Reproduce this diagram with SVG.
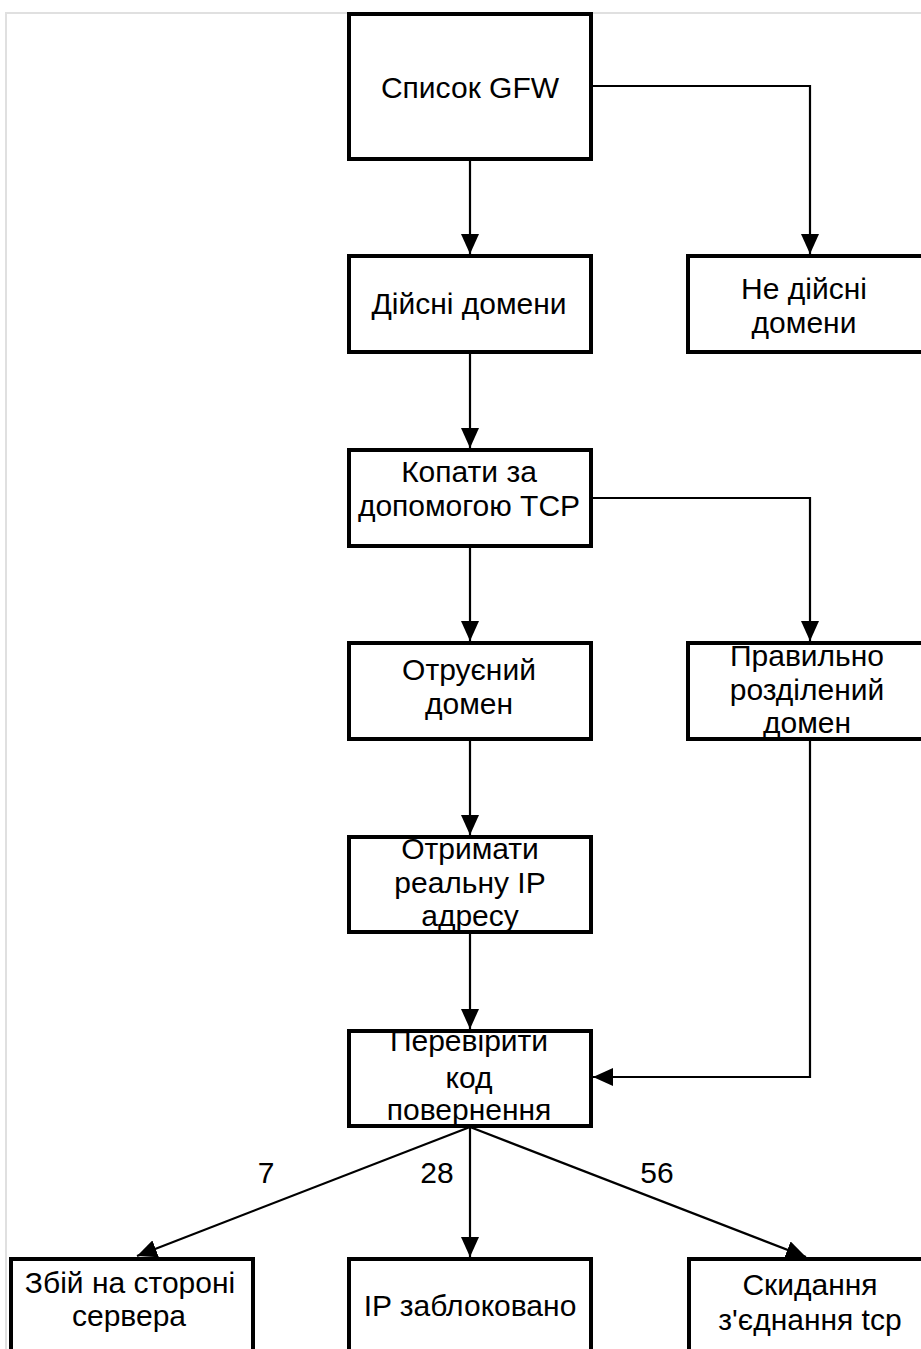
<svg xmlns="http://www.w3.org/2000/svg" width="921" height="1349" viewBox="0 0 921 1349">
<defs>
<marker id="arrow" viewBox="0 0 20 18" refX="20" refY="9" markerWidth="20" markerHeight="18" markerUnits="userSpaceOnUse" orient="auto">
<path d="M0,0 L20,9 L0,18 Z" fill="#000"/>
</marker>
</defs>
<style>
.box{fill:#fff;stroke:#000;stroke-width:4}
.t{font-family:"Liberation Sans",Arial,sans-serif;font-size:30px;fill:#000;text-anchor:middle}
.c{fill:none;stroke:#000;stroke-width:2.2}
</style>
<rect width="921" height="1349" fill="#fff"/>
<path d="M6,1349 V13 H921" fill="none" stroke="#e0e0e0" stroke-width="2"/>
<g id="connectors">
<path class="c" d="M470,160 V254" marker-end="url(#arrow)"/>
<path class="c" d="M591,86 H810 V254" marker-end="url(#arrow)"/>
<path class="c" d="M470,353 V448" marker-end="url(#arrow)"/>
<path class="c" d="M591,498 H810 V641" marker-end="url(#arrow)"/>
<path class="c" d="M470,547 V641" marker-end="url(#arrow)"/>
<path class="c" d="M470,740 V835" marker-end="url(#arrow)"/>
<path class="c" d="M810,740 V1077 H593" marker-end="url(#arrow)"/>
<path class="c" d="M470,933 V1029" marker-end="url(#arrow)"/>
<path class="c" d="M470,1127 L137,1256" marker-end="url(#arrow)"/>
<path class="c" d="M470,1127 V1257" marker-end="url(#arrow)"/>
<path class="c" d="M470,1127 L806,1257" marker-end="url(#arrow)"/>
<text class="t" x="266" y="1183">7</text>
<text class="t" x="437" y="1183">28</text>
<text class="t" x="657" y="1183">56</text>
</g>
<g id="n1"><rect class="box" x="349" y="14" width="242" height="145"/><text class="t" x="470" y="98">Список GFW</text></g>
<g id="n2"><rect class="box" x="349" y="256" width="242" height="96"/><text class="t" x="469" y="314">Дійсні домени</text></g>
<g id="n3"><rect class="box" x="688" y="256" width="240" height="96"/><text class="t" x="804" y="299">Не дійсні</text><text class="t" x="804" y="333">домени</text></g>
<g id="n4"><rect class="box" x="349" y="450" width="242" height="96"/><text class="t" x="469" y="482">Копати за</text><text class="t" x="469" y="516">допомогою TCP</text></g>
<g id="n5"><rect class="box" x="349" y="643" width="242" height="96"/><text class="t" x="469" y="680">Отруєний</text><text class="t" x="469" y="714">домен</text></g>
<g id="n6"><rect class="box" x="688" y="643" width="240" height="96"/><text class="t" x="807" y="666">Правильно</text><text class="t" x="807" y="700">розділений</text><text class="t" x="807" y="733">домен</text></g>
<g id="n7"><rect class="box" x="349" y="837" width="242" height="95"/><text class="t" x="470" y="859">Отримати</text><text class="t" x="470" y="893">реальну IP</text><text class="t" x="470" y="926">адресу</text></g>
<g id="n8"><rect class="box" x="349" y="1031" width="242" height="95"/><text class="t" x="469" y="1051">Перевірити</text><text class="t" x="469" y="1088">код</text><text class="t" x="469" y="1120">повернення</text></g>
<g id="n9"><rect class="box" x="11" y="1259" width="242" height="100"/><text class="t" x="130" y="1293">Збій на стороні</text><text class="t" x="129" y="1326">сервера</text></g>
<g id="n10"><rect class="box" x="349" y="1259" width="242" height="100"/><text class="t" x="470" y="1316">IP заблоковано</text></g>
<g id="n11"><rect class="box" x="689" y="1259" width="240" height="100"/><text class="t" x="810" y="1295">Скидання</text><text class="t" x="810" y="1330">з'єднання tcp</text></g>
</svg>
